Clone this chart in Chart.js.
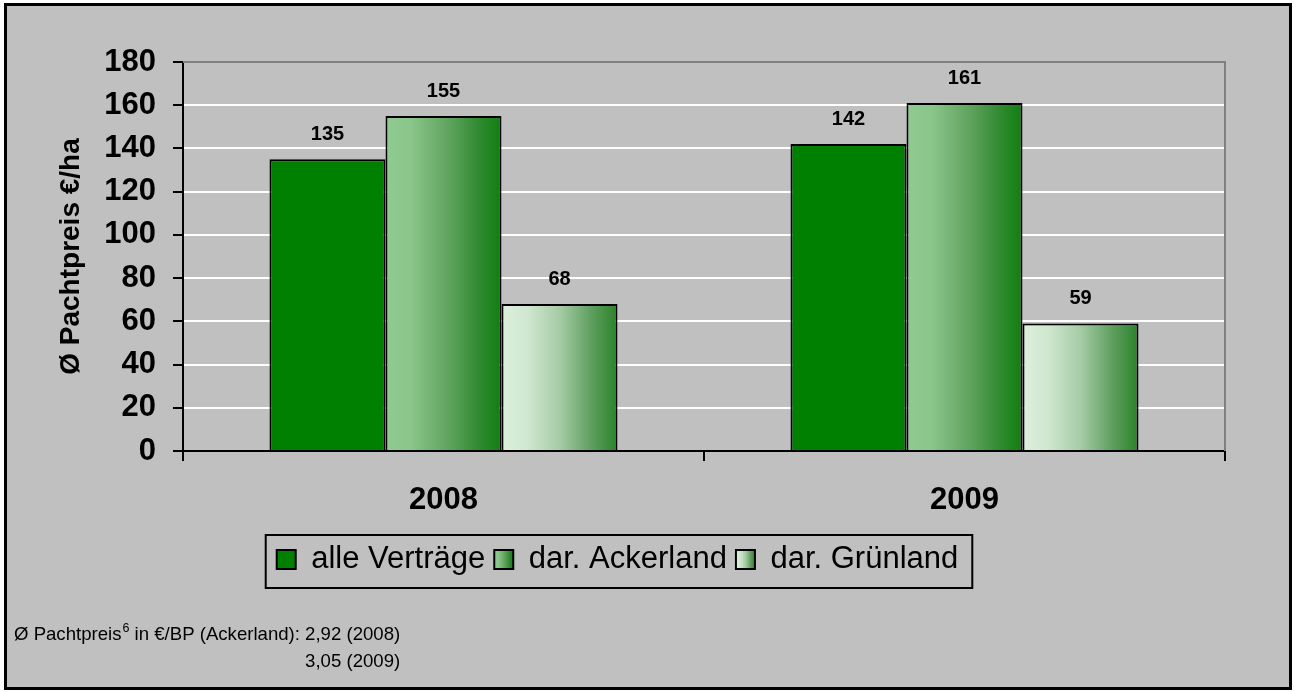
<!DOCTYPE html>
<html>
<head>
<meta charset="utf-8">
<script src="https://cdn.jsdelivr.net/npm/chart.js@4"></script>
<style>
  html, body { margin: 0; padding: 0; background: #fff; }
  canvas { display: block; }
</style>
</head>
<body>
<canvas id="pachtChart" width="1294" height="692"></canvas>
<script>
const years = ['2008', '2009'];
const seriesNames = ['alle Verträge', 'dar. Ackerland', 'dar. Grünland'];
const alleVertraege = [135, 142];
const ackerland = [155, 161];
const gruenland = [68, 59];
const yMin = 0, yMax = 180, yStep = 20;
const footLine1 = ['Ø Pachtpreis', '6', ' in €/BP (Ackerland): ', '2,92 (2008)'];
const footLine2 = '3,05 (2009)';

const FONT = '"Liberation Sans", Arial, sans-serif';
const CAT_PCT = 0.668;

// Verlaufsfarben (links -> rechts) wie im Original
const stopsAcker = [[0, '#90ca90'], [0.22, '#8ac58a'], [0.55, '#5fa35f'], [0.78, '#358c35'], [1, '#0f7f0f']];
const stopsGruen = [[0, '#ddf0dd'], [0.22, '#d0e7d0'], [0.5, '#a6cca6'], [0.78, '#5e9d5e'], [1, '#2a832a']];

function makeGradient(ctx, x0, x1, stops) {
    const g = ctx.createLinearGradient(x0, 0, x1, 0);
    stops.forEach(s => g.addColorStop(s[0], s[1]));
    return g;
}

function barFill(stops) {
    return (c) => {
        const chart = c.chart;
        const xs = chart.scales.x;
        if (!chart.chartArea || !xs || c.dataIndex === undefined) return stops[2][1];
        const center = xs.getPixelForValue(c.dataIndex);
        const bw = (xs.width / years.length) * CAT_PCT / 3;
        const left = center - 1.5 * bw + c.datasetIndex * bw;
        return makeGradient(chart.ctx, left, left + bw, stops);
    };
}

const framePlugin = {
    id: 'frame',
    beforeDraw(chart) {
        const ctx = chart.ctx;
        ctx.save();
        ctx.fillStyle = '#fff';
        ctx.fillRect(0, 0, chart.width, chart.height);
        ctx.fillStyle = '#c0c0c0';
        ctx.fillRect(5, 4, 1286, 685);
        ctx.strokeStyle = '#000';
        ctx.lineWidth = 3;
        ctx.strokeRect(5.5, 4.5, 1285, 684);
        ctx.restore();

        // Legendenkästchen mit Verlauf
        const lg = chart.legend;
        if (lg && lg.legendHitBoxes) {
            const all = [null, stopsAcker, stopsGruen];
            lg.legendItems.forEach((item, i) => {
                const hb = lg.legendHitBoxes[i];
                if (all[i] && hb) item.fillStyle = makeGradient(ctx, hb.left, hb.left + 19, all[i]);
            });
        }
    },
    beforeDatasetsDraw(chart) {
        const {ctx, chartArea: a} = chart;
        ctx.save();
        ctx.strokeStyle = '#808080';
        ctx.lineWidth = 2;
        ctx.beginPath();
        ctx.moveTo(a.left, a.top);
        ctx.lineTo(a.right, a.top);
        ctx.lineTo(a.right, a.bottom);
        ctx.stroke();
        ctx.restore();
    },
    afterDatasetsDraw(chart) {
        const ctx = chart.ctx;
        ctx.save();
        ctx.font = 'bold 20px ' + FONT;
        ctx.fillStyle = '#000';
        ctx.textAlign = 'center';
        ctx.textBaseline = 'alphabetic';
        chart.data.datasets.forEach((ds, di) => {
            chart.getDatasetMeta(di).data.forEach((bar, i) => {
                ctx.fillText(String(ds.data[i]), bar.x, bar.y - 19);
            });
        });
        ctx.restore();
    },
    afterDraw(chart) {
        const ctx = chart.ctx;
        ctx.save();
        // Rahmen um die Legende
        const lg = chart.legend;
        if (lg && lg.legendHitBoxes.length) {
            const hbs = lg.legendHitBoxes;
            const l = Math.min(...hbs.map(h => h.left)) - 11;
            const r = Math.max(...hbs.map(h => h.left + h.width)) + 14;
            const t = hbs[0].top - 9;
            const b = hbs[0].top + hbs[0].height + 13;
            ctx.strokeStyle = '#000';
            ctx.lineWidth = 2;
            ctx.strokeRect(l, t, r - l, b - t);
        }
        // Fußzeile
        ctx.fillStyle = '#000';
        ctx.textBaseline = 'alphabetic';
        ctx.textAlign = 'left';
        let x = 14;
        const y1 = 640, y2 = 667;
        ctx.font = '18.6px ' + FONT;
        ctx.fillText(footLine1[0], x, y1);
        x += ctx.measureText(footLine1[0]).width + 1;
        ctx.font = '12.5px ' + FONT;
        ctx.fillText(footLine1[1], x, y1 - 8);
        x += ctx.measureText(footLine1[1]).width;
        ctx.font = '18.6px ' + FONT;
        ctx.fillText(footLine1[2], x, y1);
        x += ctx.measureText(footLine1[2]).width;
        ctx.fillText(footLine1[3], x, y1);
        ctx.fillText(footLine2, x, y2);
        ctx.restore();
    }
};

new Chart(document.getElementById('pachtChart'), {
    type: 'bar',
    data: {
        labels: years,
        datasets: [
            { label: seriesNames[0], data: alleVertraege, backgroundColor: '#008000' },
            { label: seriesNames[1], data: ackerland, backgroundColor: barFill(stopsAcker) },
            { label: seriesNames[2], data: gruenland, backgroundColor: barFill(stopsGruen) }
        ]
    },
    options: {
        responsive: false,
        animation: false,
        layout: { padding: { left: 10, top: 62, right: 69, bottom: 107 } },
        datasets: {
            bar: { borderColor: '#000', borderWidth: 2, categoryPercentage: CAT_PCT, barPercentage: 1 }
        },
        plugins: {
            tooltip: { enabled: false },
            legend: {
                position: 'bottom',
                labels: {
                    boxWidth: 19,
                    boxHeight: 19,
                    padding: 9,
                    color: '#000',
                    font: { family: FONT, size: 31 }
                }
            }
        },
        scales: {
            x: {
                grid: { drawOnChartArea: false, tickLength: 10, tickColor: '#000', lineWidth: 2 },
                border: { color: '#000', width: 2 },
                ticks: { color: '#000', padding: 21, font: { family: FONT, size: 31, weight: 'bold' } },
                afterFit: (s) => { s.height = 84; }
            },
            y: {
                min: yMin,
                max: yMax,
                ticks: { stepSize: yStep, color: '#000', padding: 17, font: { family: FONT, size: 31, weight: 'bold' } },
                grid: {
                    lineWidth: 2,
                    tickLength: 10,
                    tickColor: '#000',
                    color: (c) => c.tick && c.tick.value === yMax ? '#808080' : (c.tick && c.tick.value === yMin ? 'rgba(0,0,0,0)' : '#ffffff')
                },
                border: { color: '#000', width: 2 },
                title: {
                    display: true,
                    text: 'Ø Pachtpreis €/ha',
                    color: '#000',
                    padding: { top: 44, bottom: 0 },
                    font: { family: FONT, size: 28, weight: 'bold' }
                },
                afterFit: (s) => { s.width = 173; }
            }
        }
    },
    plugins: [framePlugin]
});
</script>
</body>
</html>
